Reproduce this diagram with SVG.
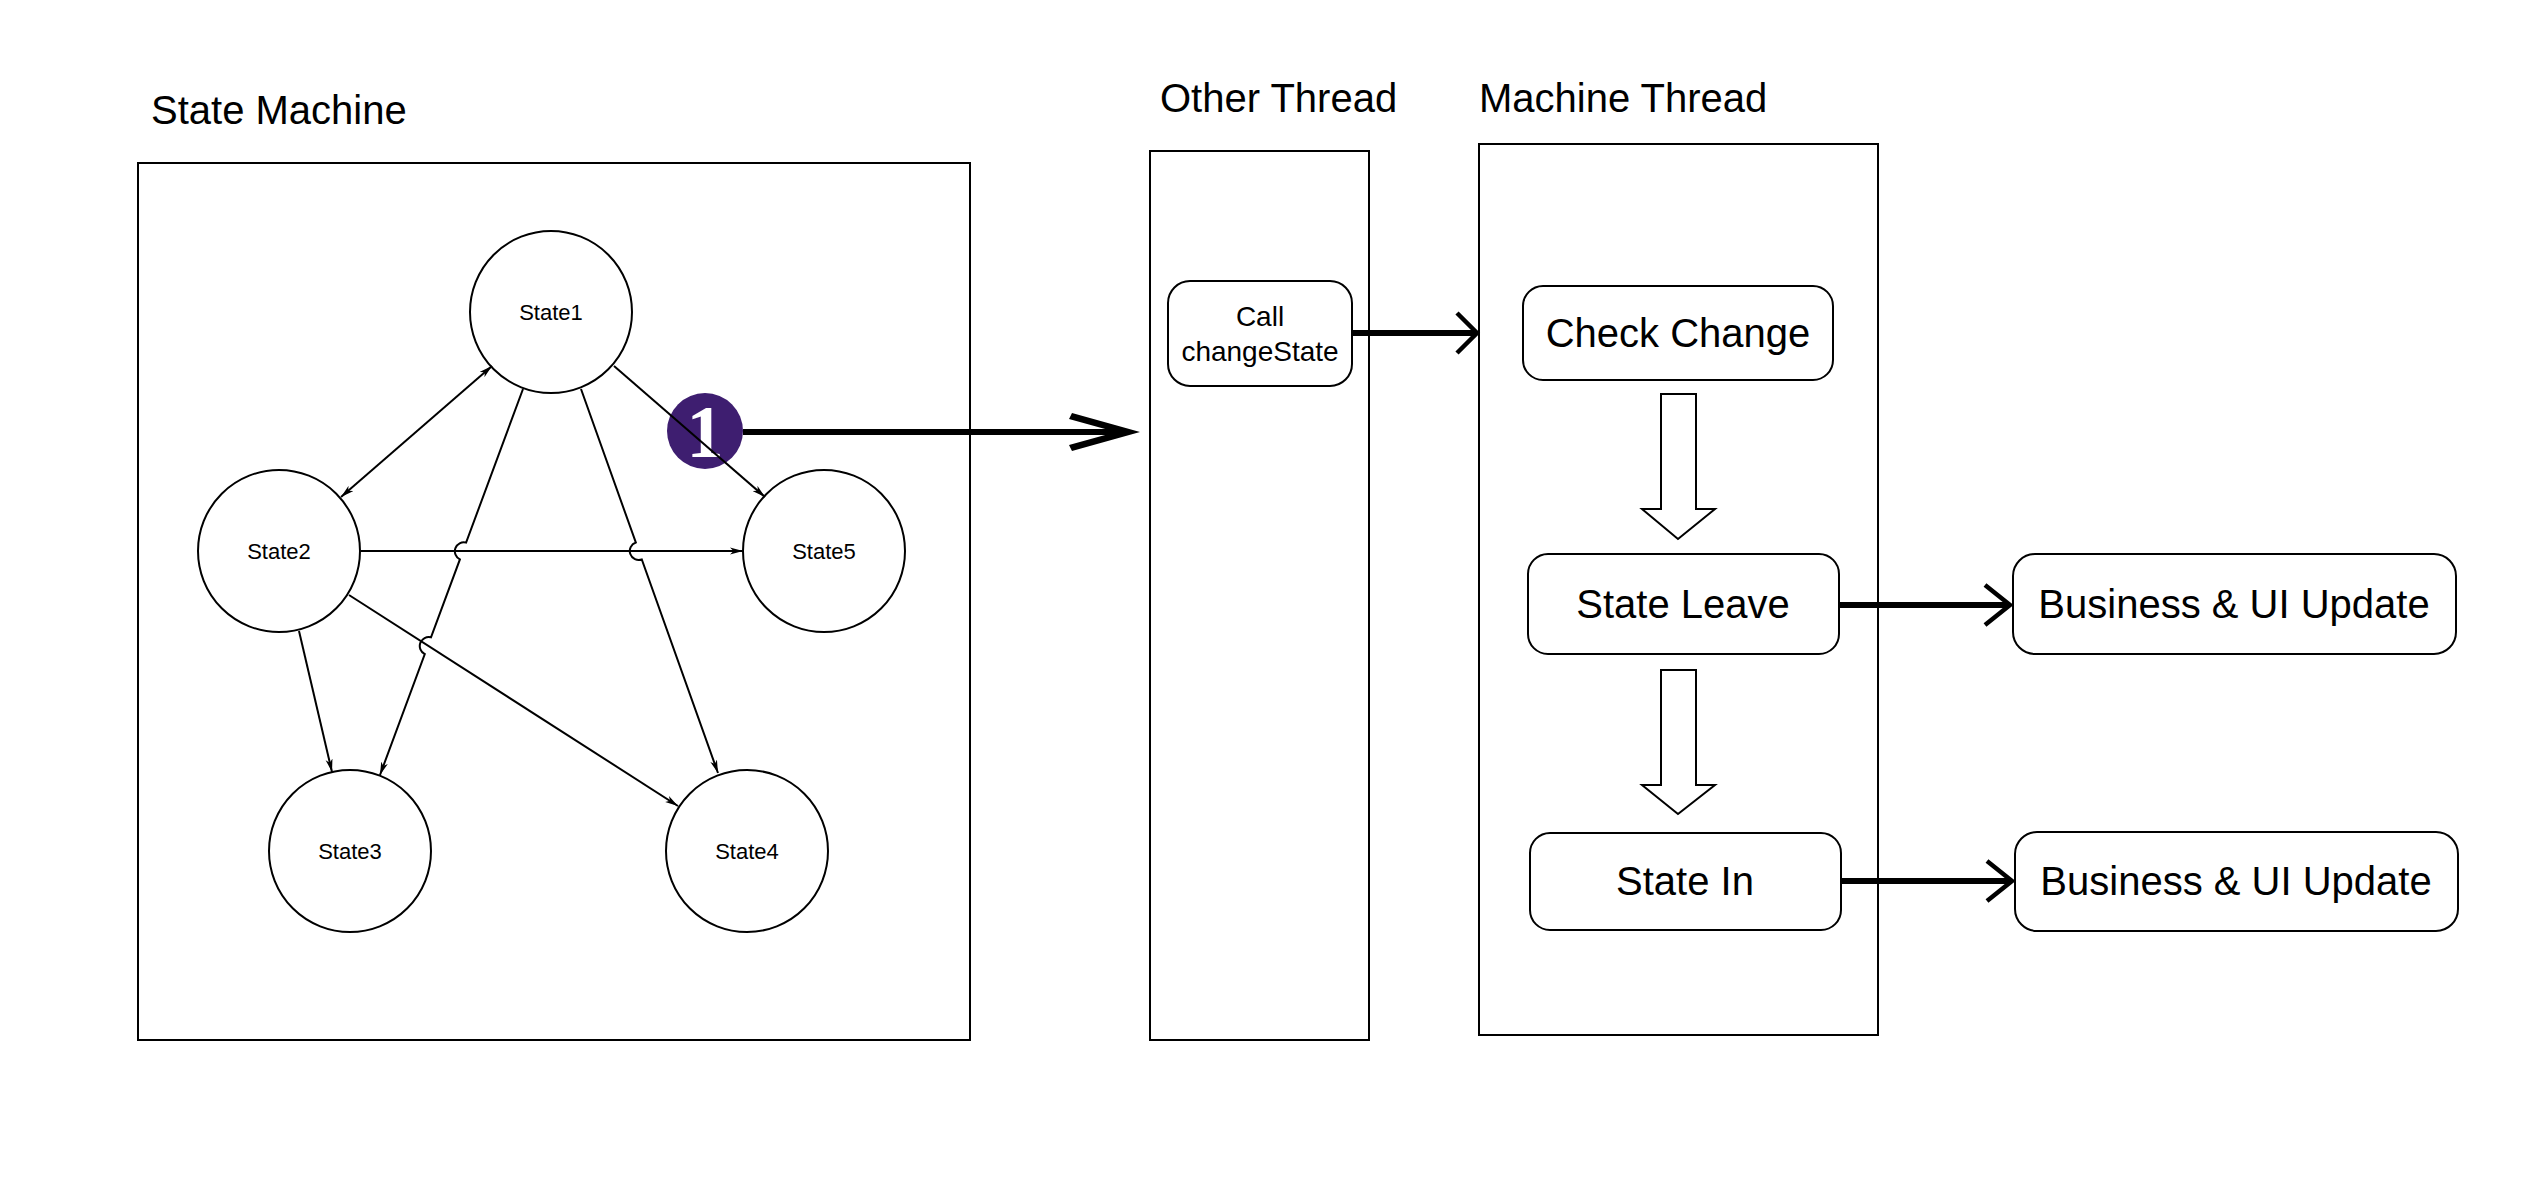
<svg xmlns="http://www.w3.org/2000/svg" width="2540" height="1188" viewBox="0 0 2540 1188">
<defs>
<style>
text{font-family:"Liberation Sans",Arial,Helvetica,sans-serif;fill:#000}
.title{font-size:40px}
.box{fill:none;stroke:#000;stroke-width:2}
.st{fill:#fff;stroke:#000;stroke-width:2}
.st-lbl{font-size:22px;text-anchor:middle}
.rb{fill:#fff;stroke:#000;stroke-width:2}
.lbl40{font-size:40px;text-anchor:middle}
.lbl28{font-size:28px;text-anchor:middle}
.edge{fill:none;stroke:#000;stroke-width:2}
.thick{fill:none;stroke:#000;stroke-width:6}
.chev{fill:none;stroke:#000;stroke-width:4.5;stroke-linecap:butt;stroke-linejoin:miter;stroke-miterlimit:10}
.block{fill:#fff;stroke:#000;stroke-width:2}
.badge-num{font-family:"Liberation Serif","Times New Roman",serif;font-weight:bold;font-size:74px;text-anchor:middle;fill:#fff}
</style>
<marker id="ah" viewBox="0 0 13 8" refX="13" refY="4" markerWidth="13" markerHeight="8" markerUnits="userSpaceOnUse" orient="auto-start-reverse">
<path d="M0,0.5 L13,4 L0,7.5 L3.5,4 Z" fill="#000"/>
</marker>
</defs>
<rect width="2540" height="1188" fill="#fff"/>

<g id="state-machine">
<text class="title" x="151" y="124">State Machine</text>
<rect class="box" x="138" y="163" width="832" height="877"/>
</g>

<g id="state1"><circle class="st" cx="551" cy="312" r="81"/><text class="st-lbl" x="551" y="320">State1</text></g>
<g id="state2"><circle class="st" cx="279" cy="551" r="81"/><text class="st-lbl" x="279" y="559">State2</text></g>
<g id="state5"><circle class="st" cx="824" cy="551" r="81"/><text class="st-lbl" x="824" y="559">State5</text></g>
<g id="state3"><circle class="st" cx="350" cy="851" r="81"/><text class="st-lbl" x="350" y="859">State3</text></g>
<g id="state4"><circle class="st" cx="747" cy="851" r="81"/><text class="st-lbl" x="747" y="859">State4</text></g>

<g id="badge"><circle cx="705" cy="431" r="38" fill="#3e1e70"/><text class="badge-num" x="705" y="457">1</text></g>

<g id="other-thread">
<text class="title" x="1160" y="112">Other Thread</text>
<rect class="box" x="1150" y="151" width="219" height="889"/>
</g>
<g id="call-changestate">
<rect class="rb" x="1168" y="281" width="184" height="105" rx="22" ry="22"/>
<text class="lbl28" x="1260" y="326">Call</text>
<text class="lbl28" x="1260" y="361">changeState</text>
</g>

<g id="machine-thread">
<text class="title" x="1479" y="112">Machine Thread</text>
<rect class="box" x="1479" y="144" width="399" height="891"/>
</g>
<g id="check-change"><rect class="rb" x="1523" y="286" width="310" height="94" rx="20" ry="20"/><text class="lbl40" x="1678" y="347">Check Change</text></g>
<g id="state-leave"><rect class="rb" x="1528" y="554" width="311" height="100" rx="20" ry="20"/><text class="lbl40" x="1683" y="618">State Leave</text></g>
<g id="state-in"><rect class="rb" x="1530" y="833" width="311" height="97" rx="20" ry="20"/><text class="lbl40" x="1685" y="895">State In</text></g>
<g id="business-1"><rect class="rb" x="2013" y="554" width="443" height="100" rx="22" ry="22"/><text class="lbl40" x="2234" y="618">Business &amp; UI Update</text></g>
<g id="business-2"><rect class="rb" x="2015" y="832" width="443" height="99" rx="22" ry="22"/><text class="lbl40" x="2236" y="895">Business &amp; UI Update</text></g>

<g id="connectors">
<line class="edge" x1="492" y1="366" x2="341" y2="497" marker-start="url(#ah)" marker-end="url(#ah)"/>
<line class="edge" x1="614" y1="366" x2="765" y2="497" marker-end="url(#ah)"/>
<line class="edge" x1="361" y1="551" x2="743" y2="551" marker-end="url(#ah)"/>
<line class="edge" x1="299" y1="631" x2="332" y2="772" marker-end="url(#ah)"/>
<line class="edge" x1="349" y1="595" x2="678" y2="806" marker-end="url(#ah)"/>
<path class="edge" d="M523,389 L466.1,542.6 A9,9 0 0 0 459.9,559.4 L431,637.3 A9,9 0 0 0 424.8,654.1 L380,775" marker-end="url(#ah)"/>
<path class="edge" d="M581,389 L635.8,542.5 A9,9 0 0 0 641.8,559.5 L718,773" marker-end="url(#ah)"/>

<line class="thick" x1="743" y1="432" x2="1122" y2="432"/>
<polygon points="1140,432 1072,413 1069,419 1116,432 1069,445 1072,451" fill="#000"/>

<line class="thick" x1="1352" y1="333" x2="1474" y2="333"/>
<polyline class="chev" points="1457,313 1477,333 1457,353"/>

<line class="thick" x1="1839" y1="605" x2="2008" y2="605"/>
<polyline class="chev" points="1985,585 2010,605 1985,625"/>

<line class="thick" x1="1841" y1="881" x2="2010" y2="881"/>
<polyline class="chev" points="1987,861 2012,881 1987,901"/>

<polygon class="block" points="1661,394 1696,394 1696,509 1715,509 1678,539 1642,509 1661,509"/>
<polygon class="block" points="1661,670 1696,670 1696,785 1715,785 1678,814 1642,785 1661,785"/>
</g>
</svg>
